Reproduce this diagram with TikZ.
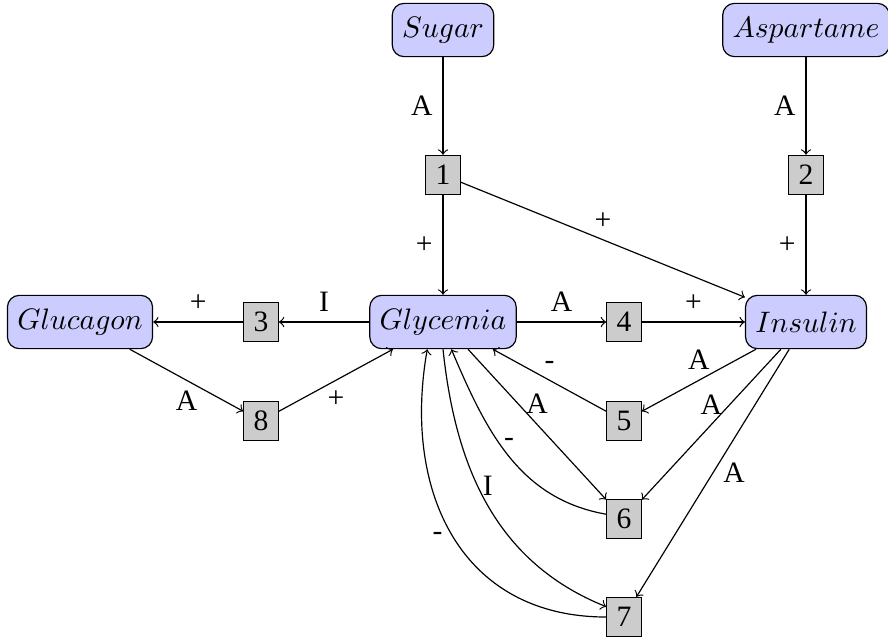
\documentclass[tikz,border=0pt]{standalone}
\usepackage[no-math]{fontspec}
\setmainfont{Liberation Serif}
\begin{document}
\begin{tikzpicture}[x=0.3378pt,y=0.3378pt,
  state/.style={draw, rounded corners=4pt, fill=blue!20, minimum height=18pt, inner sep=3.33pt},
  num/.style={draw, fill=black!20, inner sep=3.33pt},
  >=to]
\useasboundingbox (0,0) rectangle (888,-641);
\node[state] (sugar) at (443,-30) {$Sugar$};
\node[state] (asp) at (806,-30) {$Aspartame$};
\node[num] (b1) at (443,-175) {1};
\node[num] (b2) at (806,-175) {2};
\node[state] (glu) at (80,-322) {$Glucagon$};
\node[num] (b3) at (261,-322) {3};
\node[state] (gly) at (443,-322) {$Glycemia$};
\node[num] (b4) at (624,-322) {4};
\node[state] (ins) at (806,-322) {$Insulin$};
\node[num] (b8) at (261,-421) {8};
\node[num] (b5) at (624,-421) {5};
\node[num] (b6) at (624,-519) {6};
\node[num] (b7) at (624,-617) {7};

\draw[->] (sugar) -- node[left] {A} (b1);
\draw[->] (asp) -- node[left] {A} (b2);
\draw[->] (b1) -- node[left] {+} (gly);
\draw[->] (b1) -- node[above] {+} (ins);
\draw[->] (b2) -- node[left] {+} (ins);
\draw[->] (gly) -- node[above] {I} (b3);
\draw[->] (b3) -- node[above] {+} (glu);
\draw[->] (gly) -- node[above] {A} (b4);
\draw[->] (b4) -- node[above] {+} (ins);
\draw[->] (glu) -- node[below] {A} (b8);
\draw[->] (b8) -- node[below] {+} (gly);
\draw[->] (ins) -- node[above] {A} (b5);
\draw[->] (b5) -- node[above] {-} (gly);
\draw[->] (ins) -- node[above] {A} (b6);
\draw[->] (ins) -- node[right] {A} (b7);
\draw[->] (gly) -- node[above] {A} (b6);
\draw[->] (b6.165) to[out=170,in=-67] node[above] {-} (gly.287);
\draw[->] (gly.south) to[out=-84,in=158] node[above] {I} (b7.150);
\draw[->] (b7.west) to[out=180,in=-100,looseness=1.15] node[left] {-} (gly.240);
\end{tikzpicture}
\end{document}
